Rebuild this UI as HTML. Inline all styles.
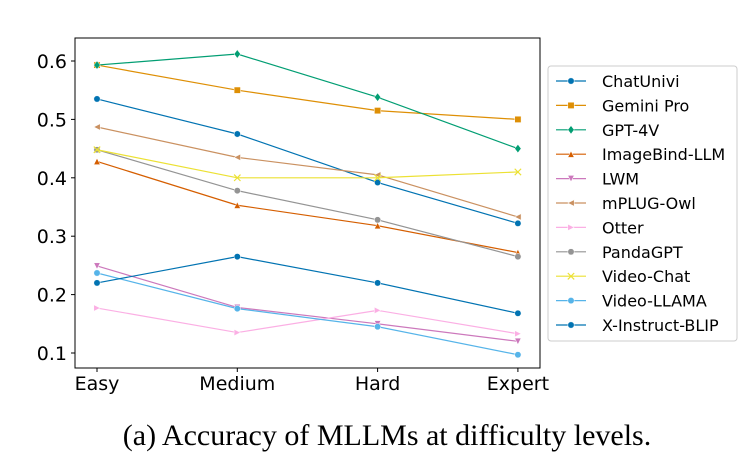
<!DOCTYPE html>
<html><head><meta charset="utf-8"><style>
body{margin:0;background:#fff;width:754px;height:460px;overflow:hidden}
svg{font-family:"DejaVu Sans","Liberation Sans",sans-serif}
</style></head><body>
<svg id="chart" width="754" height="460" xmlns="http://www.w3.org/2000/svg">
<rect x="75" y="38" width="465" height="330" fill="none" stroke="#000" stroke-width="1"/>
<g id="axes"></g><g id="series"></g><g id="legend"></g>
<text x="387" y="445" text-anchor="middle" font-family="'Liberation Serif',serif" font-size="30">(a) Accuracy of MLLMs at difficulty levels.</text>
</svg>
<script>
const categories=["Easy","Medium","Hard","Expert"];
const yTicks=[0.1,0.2,0.3,0.4,0.5,0.6];
const names=["ChatUnivi","Gemini Pro","GPT-4V","ImageBind-LLM","LWM","mPLUG-Owl","Otter","PandaGPT","Video-Chat","Video-LLAMA","X-Instruct-BLIP"];
const chatUnivi=[0.535,0.475,0.392,0.322];
const geminiPro=[0.593,0.55,0.515,0.50];
const gpt4v=[0.593,0.612,0.538,0.45];
const imageBind=[0.428,0.353,0.318,0.272];
const lwm=[0.249,0.178,0.15,0.12];
const mplugOwl=[0.487,0.435,0.405,0.333];
const otter=[0.177,0.135,0.173,0.133];
const pandaGPT=[0.448,0.378,0.328,0.265];
const videoChat=[0.448,0.40,0.40,0.41];
const videoLlama=[0.237,0.176,0.145,0.097];
const xInstruct=[0.22,0.265,0.22,0.168];
const seriesValues=[chatUnivi,geminiPro,gpt4v,imageBind,lwm,mplugOwl,otter,pandaGPT,videoChat,videoLlama,xInstruct];
const colors=["#0173b2","#de8f05","#029e73","#d55e00","#cc78bc","#ca9161","#fbafe4","#949494","#ece133","#56b4e9","#0173b2"];
const markers=["o","s","d","^","v","<",">","o","x","o","o"];
const NS="http://www.w3.org/2000/svg";
const x=i=>97+i*140.3;
const y=v=>61+(0.6-v)*584;
function mk(t,a,p){const e=document.createElementNS(NS,t);for(const k in a)e.setAttribute(k,a[k]);p.appendChild(e);return e;}
const axes=document.getElementById('axes');
yTicks.forEach(v=>{
 const l=mk('line',{x1:71,x2:75,y1:y(v),y2:y(v),stroke:'#000'},axes);
 
 
 const t=mk('text',{x:67,y:y(v)+7,'text-anchor':'end','font-size':19},axes);t.textContent=v.toFixed(1);
 
 
});
categories.forEach((c,i)=>{
 const l=mk('line',{x1:x(i),x2:x(i),y1:368,y2:372,stroke:'#000'},axes);
 
 
 const t=mk('text',{x:x(i),y:390,'text-anchor':'middle','font-size':19},axes);t.textContent=c;
 
 
});
function marker(m,cx,cy,c,p){
 const s=3.2;let e;
 if(m==='o')e=mk('circle',{cx,cy,r:s},p);
 else if(m==='s')e=mk('rect',{x:cx-s,y:cy-s,width:2*s,height:2*s},p);
 else if(m==='d')e=mk('polygon',{points:`${cx},${cy-4.2} ${cx+3.2},${cy} ${cx},${cy+4.2} ${cx-3.2},${cy}`},p);
 else if(m==='^')e=mk('polygon',{points:`${cx},${cy-s} ${cx+s},${cy+s} ${cx-s},${cy+s}`},p);
 else if(m==='v')e=mk('polygon',{points:`${cx},${cy+s} ${cx+s},${cy-s} ${cx-s},${cy-s}`},p);
 else if(m==='<')e=mk('polygon',{points:`${cx-s},${cy} ${cx+s},${cy-s} ${cx+s},${cy+s}`},p);
 else if(m==='>')e=mk('polygon',{points:`${cx+s},${cy} ${cx-s},${cy-s} ${cx-s},${cy+s}`},p);
 else e=mk('path',{d:`M${cx-s} ${cy-s}L${cx+s} ${cy+s}M${cx-s} ${cy+s}L${cx+s} ${cy-s}`,stroke:c,'stroke-width':1.2},p);
 e.setAttribute('fill',c);e.setAttribute('stroke',m==='x'?c:'#fff');if(m!=='x')e.setAttribute('stroke-width',0.5);
 return e;
}
const sg=document.getElementById('series');
seriesValues.forEach((vals,k)=>{
 const g=mk('g',{},sg);
 
 
 const pl=mk('polyline',{points:vals.map((v,i)=>x(i)+','+y(v)).join(' '),fill:'none',stroke:colors[k],'stroke-width':1.2},g);
 
 
 vals.forEach((v,i)=>{const m=marker(markers[k],x(i),y(v),colors[k],g);
  
  });
});
const lg=document.getElementById('legend');
const box=mk('rect',{x:548,y:66,width:189,height:275,rx:3,fill:'#fff',stroke:'#ccc'},lg);


names.forEach((n,k)=>{
 const yy=81+k*24.4;
 const g=mk('g',{},lg);
 
 
 mk('line',{x1:556,x2:586,y1:yy,y2:yy,stroke:colors[k],'stroke-width':1.2},g);
 marker(markers[k],571,yy,colors[k],g);
 const t=mk('text',{x:602,y:yy+6,'font-size':16},g);t.textContent=n;
});
</script>
</body></html>
